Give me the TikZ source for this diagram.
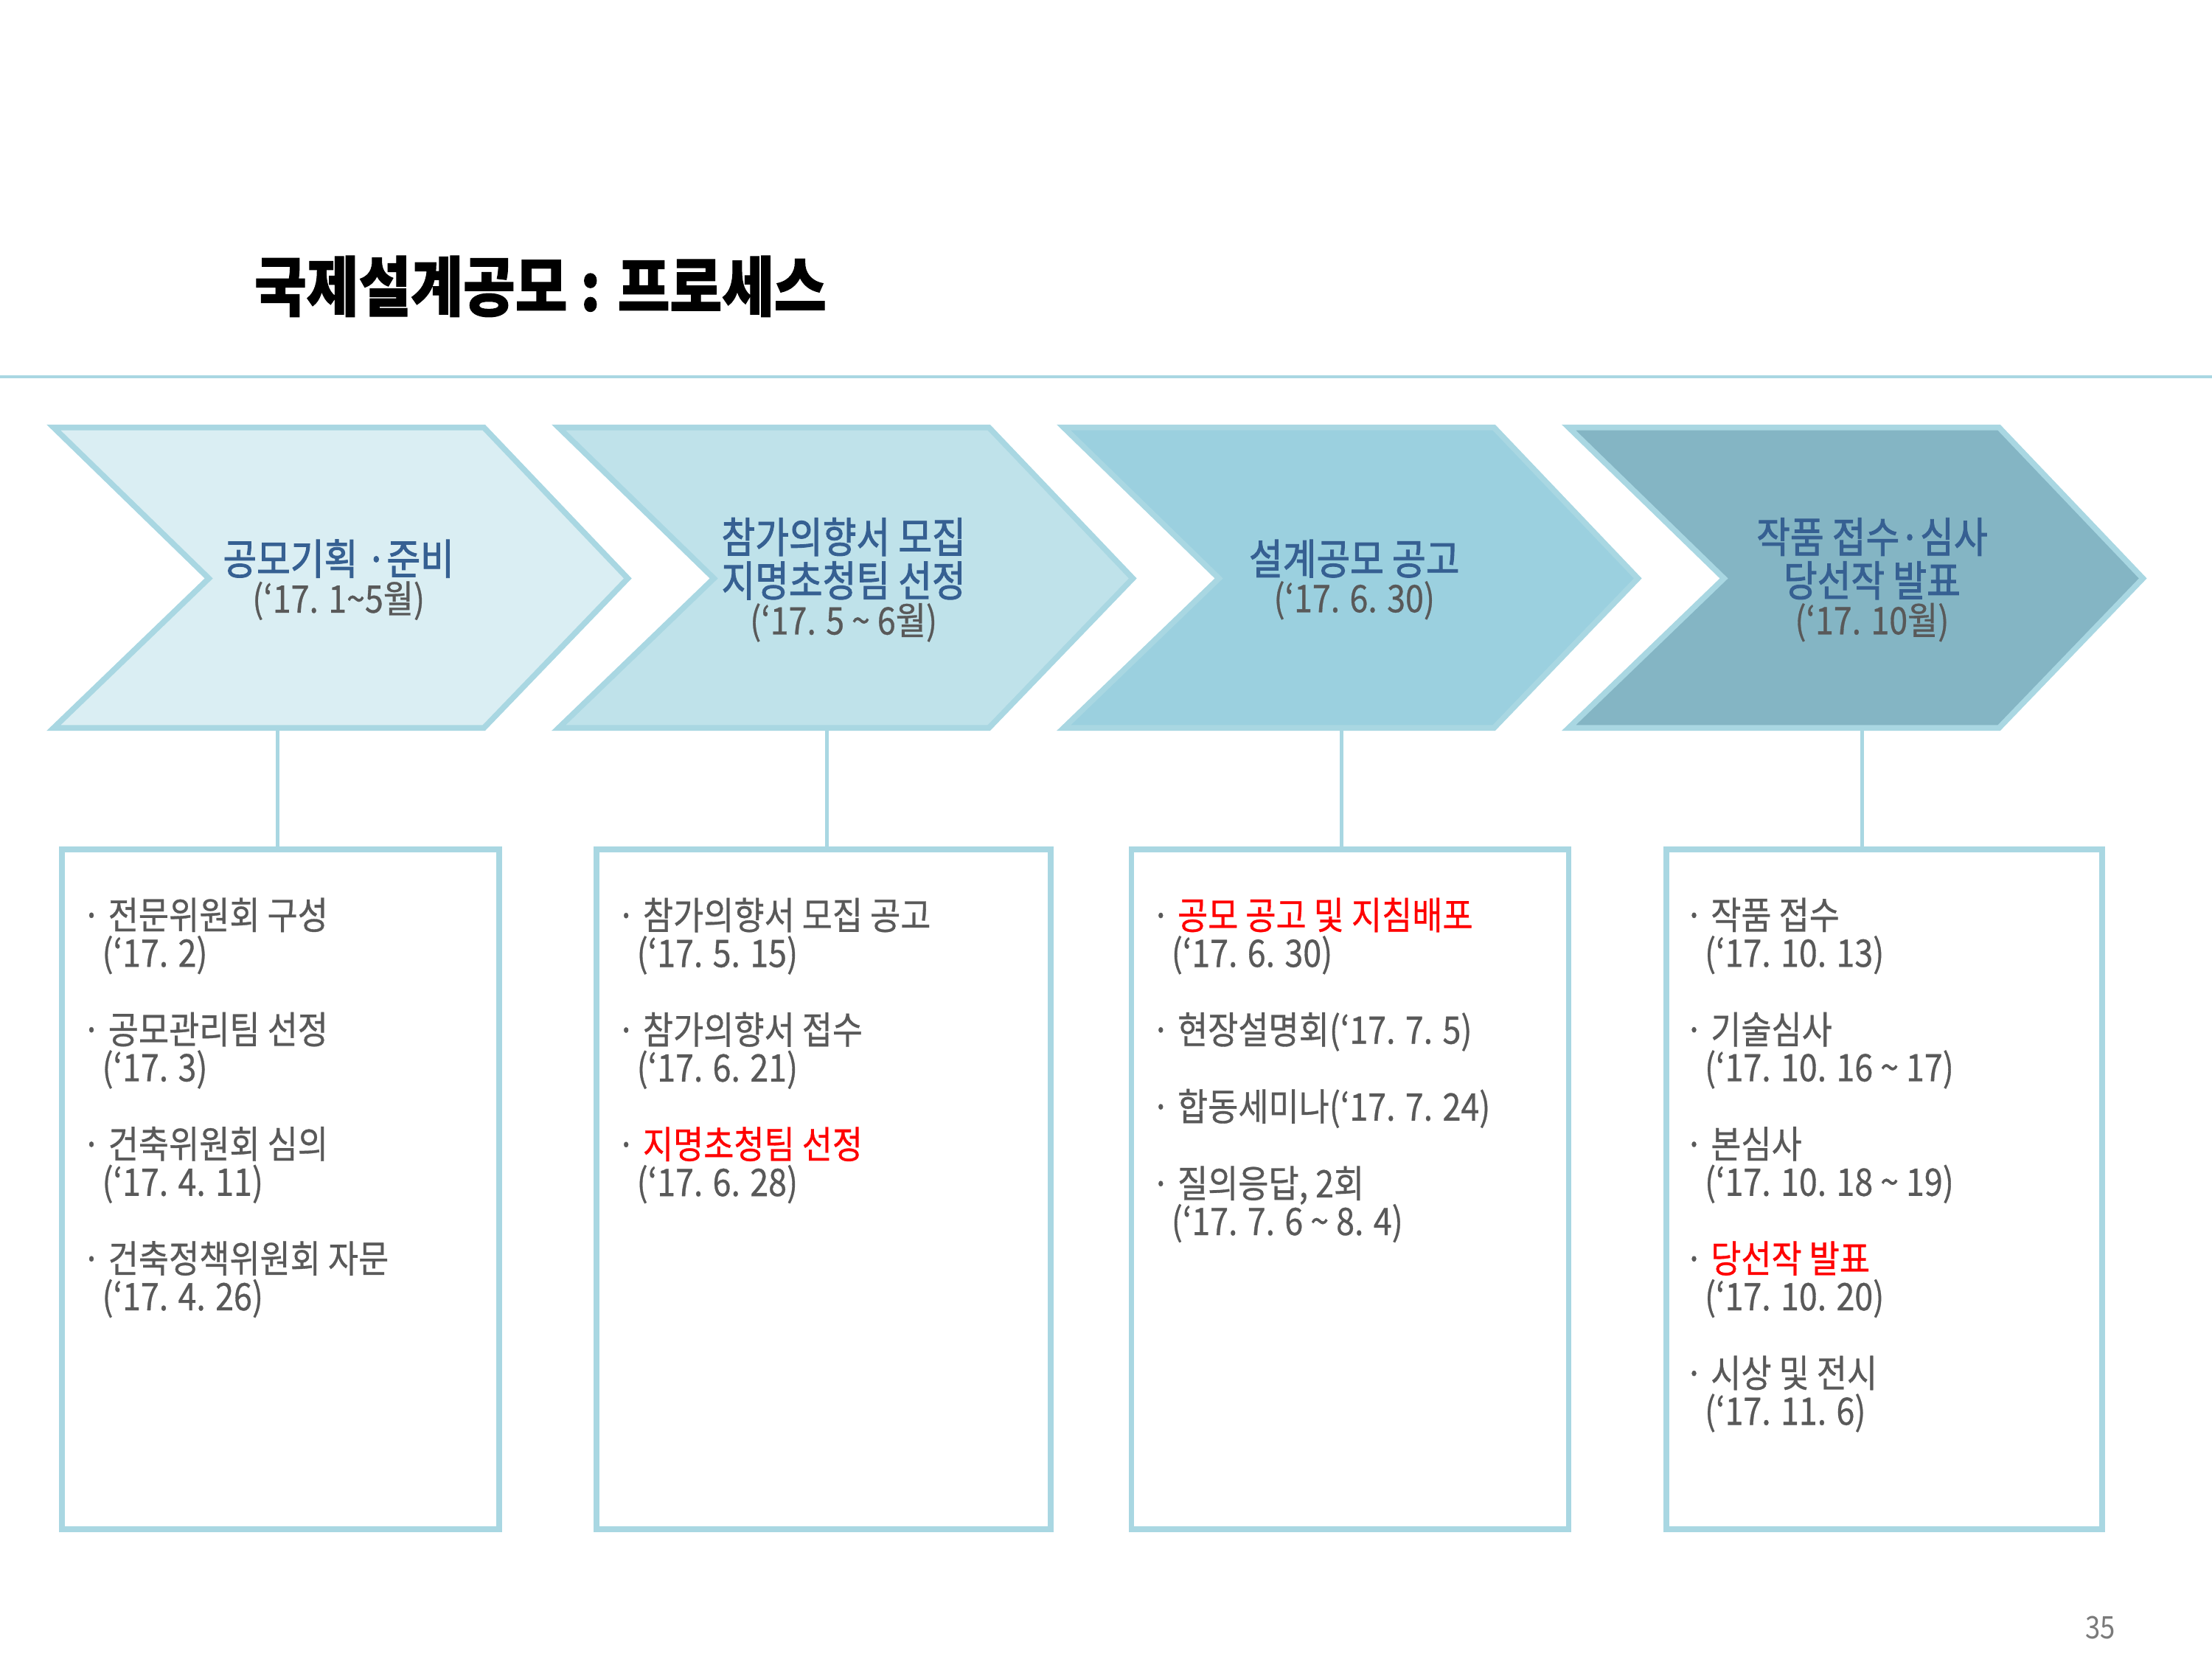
\documentclass[tikz,border=0pt]{standalone}
\usepackage{fontspec}
\setmainfont{Noto Sans CJK KR}[FakeStretch=0.87]
\newfontfamily\krmed{Noto Sans CJK KR}[FakeStretch=0.87, FakeBold=0.6]
\newfontfamily\krsemi{Noto Sans CJK KR}[FakeStretch=0.87, FakeBold=1.6]
\newfontfamily\krheavy{Noto Sans CJK KR}[FakeStretch=0.87, BoldFeatures={FakeBold=1.2}]
\usetikzlibrary{positioning}
\definecolor{rulecol}{HTML}{A9D7E2}
\definecolor{chevA}{HTML}{DAEEF3}
\definecolor{chevB}{HTML}{BFE2EA}
\definecolor{chevC}{HTML}{9BD0DF}
\definecolor{chevD}{HTML}{84B5C4}
\definecolor{stepblue}{HTML}{366092}
\definecolor{txtgray}{HTML}{595959}
\definecolor{hired}{HTML}{FF0000}
\newcommand{\dateln}[1]{\hspace*{8pt}#1}
\newcommand{\itemgap}{\\[15.8pt]}
\newcommand{\tld}{{\char`\~}}
\newcommand{\panelfont}{\krmed\fontsize{15.3}{15.2}\selectfont\setlength{\lineskiplimit}{-20pt}}

\begin{document}
\begin{tikzpicture}[x=0.02cm, y=-0.02cm,
  chevtitle/.style={align=center, inner sep=0pt, text=stepblue, font=\krsemi\fontsize{17}{17.6}\selectfont},
  chevdate/.style={inner sep=0pt, text=txtgray, font=\krmed\fontsize{15.3}{15.4}\selectfont},
  panel/.style={draw=rulecol, line width=2.3pt, anchor=north west, minimum height=9.64cm},
  paneltext/.style={align=left, anchor=north west, inner sep=0pt, text=txtgray, font=\panelfont},
  link/.style={rulecol, line width=1.5pt}]
  \useasboundingbox (0,0) rectangle (1568,1176); % page frame

  % Title and rule
  \node[anchor=west, inner sep=0pt, font=\krheavy\fontsize{26.3}{27}\selectfont\bfseries] (title) at (180,203) {국제설계공모 : 프로세스};
  \draw[rulecol, line width=1.2pt] (0,267) -- (1568,267); % rule under the title

  % Chevrons of the four stages
  \foreach \i/\col in {0/chevA,1/chevB,2/chevC,3/chevD} {
    \pgfmathsetmacro{\xo}{38+358*\i}
    \draw[rulecol, line width=2.3pt, fill=\col] (\xo,303) -- ++(305,0) -- ++(102,107) -- ++(-102,106) -- ++(-305,0) -- ++(110,-106) -- cycle;
  }
  \node[chevtitle] (t1) at (240,396) {공모기획 ·준비};
  \node[chevdate, below=1pt of t1] (d1) {(‘17. 1\tld5월)};
  \node[chevtitle] (t2) at (598,396) {참가의향서 모집\\지명초청팀 선정};
  \node[chevdate, below=1pt of t2] (d2) {(‘17. 5 \tld{} 6월)};
  \node[chevtitle] (t3) at (960,396) {설계공모 공고};
  \node[chevdate, below=1pt of t3] (d3) {(‘17. 6. 30)};
  \node[chevtitle] (t4) at (1327,396) {작품 접수·심사\\당선작 발표};
  \node[chevdate, below=1pt of t4] (d4) {(‘17. 10월)};

  % Detail panels
  \node[panel, minimum width=6.2cm] (b1) at (42,600) {};
  \node[panel, minimum width=6.44cm] (b2) at (421,600) {};
  \node[panel, minimum width=6.2cm] (b3) at (800,600) {};
  \node[panel, minimum width=6.18cm] (b4) at (1179,600) {};

  % Stems from chevrons to panels
  \foreach \x/\n in {197/1,586/2,951/3,1320/4} {
    \coordinate (s\n) at (\x,516);
    \draw[link] (s\n) -- (s\n |- b\n.north);
  }

  % Panel texts
  \node[paneltext] (p1) at (58,636) {· 전문위원회 구성\\ \dateln{(‘17. 2)}\itemgap
    · 공모관리팀 선정\\ \dateln{(‘17. 3)}\itemgap
    · 건축위원회 심의\\ \dateln{(‘17. 4. 11)}\itemgap
    · 건축정책위원회 자문\\ \dateln{(‘17. 4. 26)}};
  \node[paneltext] (p2) at (437,636) {· 참가의향서 모집 공고\\ \dateln{(‘17. 5. 15)}\itemgap
    · 참가의향서 접수\\ \dateln{(‘17. 6. 21)}\itemgap
    · {\color{hired}지명초청팀 선정}\\ \dateln{(‘17. 6. 28)}};
  \node[paneltext] (p3) at (816,636) {· {\color{hired}공모 공고 및 지침배포}\\ \dateln{(‘17. 6. 30)}\itemgap
    · 현장설명회(‘17. 7. 5)\itemgap
    · 합동세미나(‘17. 7. 24)\itemgap
    · 질의응답, 2회\\ \dateln{(‘17. 7. 6 \tld{} 8. 4)}};
  \node[paneltext] (p4) at (1194,636) {· 작품 접수\\ \dateln{(‘17. 10. 13)}\itemgap
    · 기술심사\\ \dateln{(‘17. 10. 16 \tld{} 17)}\itemgap
    · 본심사\\ \dateln{(‘17. 10. 18 \tld{} 19)}\itemgap
    · {\color{hired}당선작 발표}\\ \dateln{(‘17. 10. 20)}\itemgap
    · 시상 및 전시\\ \dateln{(‘17. 11. 6)}};

  \node[inner sep=0pt, text=txtgray!80, font=\fontsize{12.5}{13}\selectfont] (page) at (1489,1154) {35}; % page number
\end{tikzpicture}
\end{document}
